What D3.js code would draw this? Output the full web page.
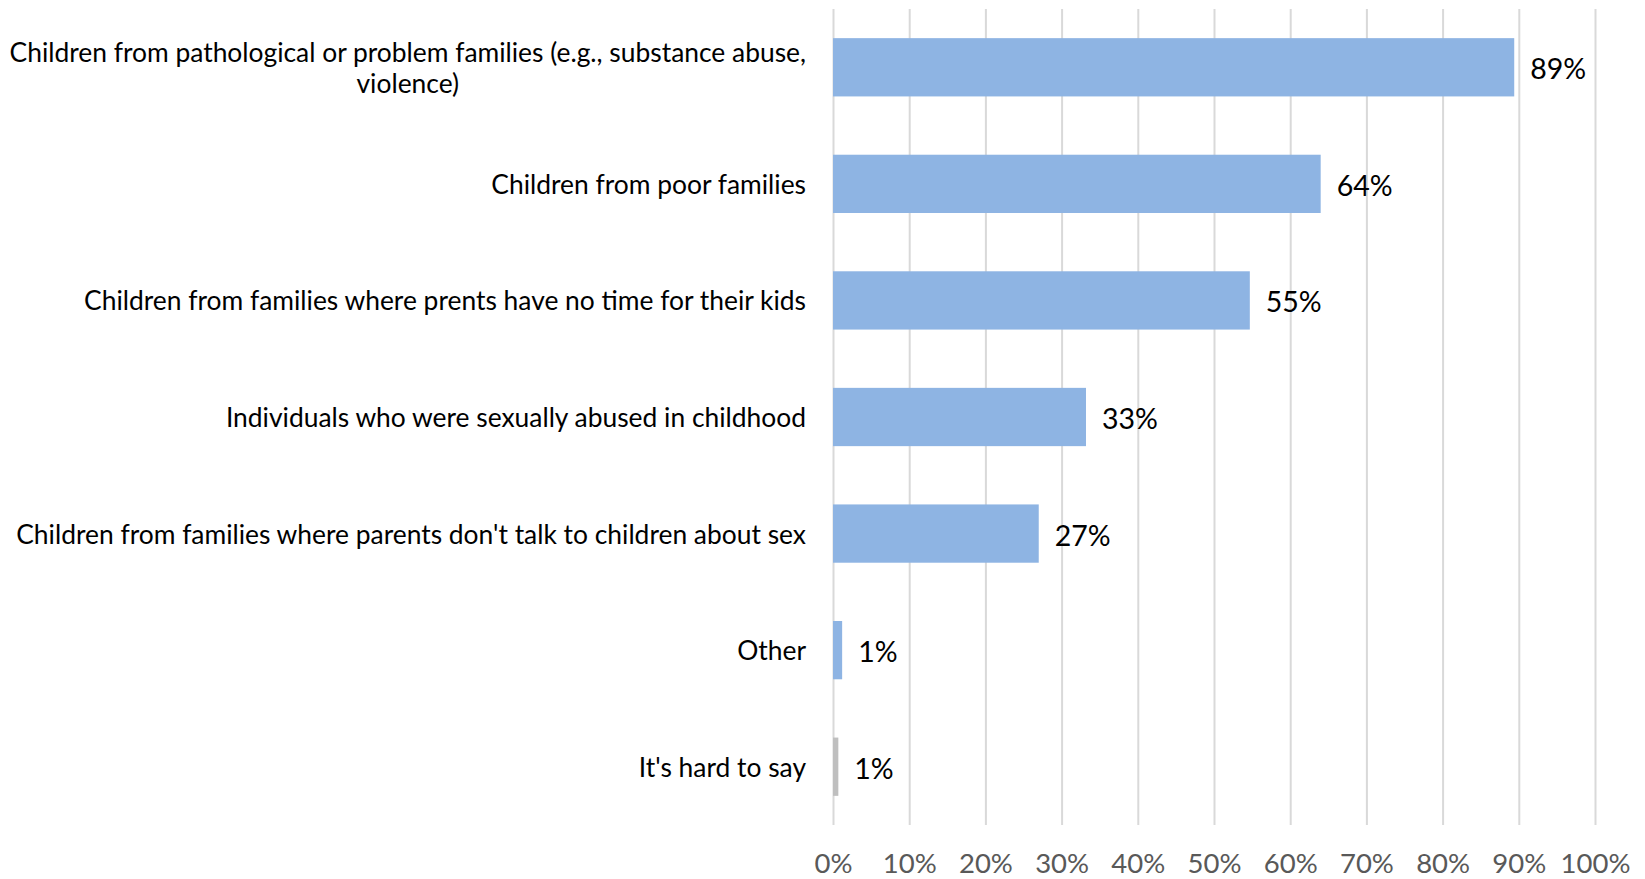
<!DOCTYPE html>
<html>
<head>
<meta charset="utf-8">
<script src="https://cdnjs.cloudflare.com/ajax/libs/d3/7.8.5/d3.min.js"></script>
<style>
  html, body { margin: 0; padding: 0; background: #fff; overflow: hidden; }
  svg { display: block; }
  text { font-family: Lato, 'Open Sans', sans-serif; }
</style>
</head>
<body>
<svg id="chart"></svg>
<script>
// Categories top to bottom, each one split in display lines
const categories = [
    ['Children from pathological or problem families (e.g., substance abuse,', 'violence)'],
    ['Children from poor families'],
    ['Children from families where prents have no time for their kids'],
    ['Individuals who were sexually abused in childhood'],
    ["Children from families where parents don't talk to children about sex"],
    ['Other'],
    ["It's hard to say"]
];
const values = [89.4, 64.0, 54.7, 33.2, 27.0, 1.2, 0.7];
const valueLabels = ['89%', '64%', '55%', '33%', '27%', '1%', '1%'];
const xTicks = [0, 10, 20, 30, 40, 50, 60, 70, 80, 90, 100];

const config = {
    width: 1645,
    height: 879,
    margin: {top: 9, right: 50, bottom: 54, left: 833},
    labelGap: 27,
    lineHeight: 31.5
};

const innerHeight = config.height - config.margin.top - config.margin.bottom;

const svg = d3.select('#chart')
    .attr('width', config.width)
    .attr('height', config.height);

const g = svg.append('g')
    .attr('transform', `translate(${config.margin.left},${config.margin.top})`);

const xScale = d3.scaleLinear()
    .domain([0, 100])
    .range([0, 762]);

const yScale = d3.scaleBand()
    .domain(d3.range(categories.length))
    .range([0, innerHeight])
    .paddingInner(0.5)
    .paddingOuter(0.25);

// Vertical gridlines + tick labels
const xAxis = d3.axisBottom(xScale)
    .tickValues(xTicks)
    .tickSize(-innerHeight)
    .tickSizeOuter(0)
    .tickPadding(28)
    .tickFormat(d => d + '%');

const xAxisG = g.append('g')
    .attr('transform', `translate(0,${innerHeight})`)
    .call(xAxis);

xAxisG.select('.domain').remove();
xAxisG.selectAll('.tick line')
    .attr('stroke', '#d9d9d9')
    .attr('stroke-width', 2);
xAxisG.selectAll('.tick text')
    .attr('fill', '#595959')
    .attr('font-size', 27.5)
    .attr('dy', '0.71em')
    .style('font-family', 'Lato, sans-serif');

// Bars
g.selectAll('.bar')
    .data(values)
    .join('rect')
    .attr('class', 'bar')
    .attr('x', xScale(0))
    .attr('y', (d, i) => yScale(i))
    .attr('width', d => xScale(d) - xScale(0))
    .attr('height', yScale.bandwidth())
    .attr('fill', (d, i) => categories[i][0] === "It's hard to say" ? '#bfbfbf' : '#8eb4e3');

// Value labels
g.selectAll('.value-label')
    .data(values)
    .join('text')
    .attr('class', 'value-label')
    .attr('x', d => xScale(d) + 16)
    .attr('y', (d, i) => yScale(i) + yScale.bandwidth() / 2)
    .attr('dy', '0.42em')
    .attr('font-size', 28.5)
    .attr('fill', '#000')
    .text((d, i) => valueLabels[i]);

// Category labels (multi-line block right aligned, lines centred inside it)
const labelG = g.selectAll('.cat-label')
    .data(categories)
    .join('g')
    .attr('class', 'cat-label')
    .attr('transform', (d, i) => `translate(${-config.labelGap},${yScale(i) + yScale.bandwidth() / 2})`);

labelG.each(function(lines) {
    const el = d3.select(this);
    const texts = el.selectAll('text')
        .data(lines)
        .join('text')
        .attr('font-size', 26.4)
        .attr('fill', '#000')
        .attr('dy', '0.38em')
        .attr('y', (d, j) => (j - (lines.length - 1) / 2) * config.lineHeight)
        .text(d => d);
    const widths = texts.nodes().map(n => n.getComputedTextLength());
    const blockWidth = d3.max(widths);
    texts.attr('text-anchor', 'middle')
        .attr('x', -blockWidth / 2);
});
</script>
</body>
</html>
